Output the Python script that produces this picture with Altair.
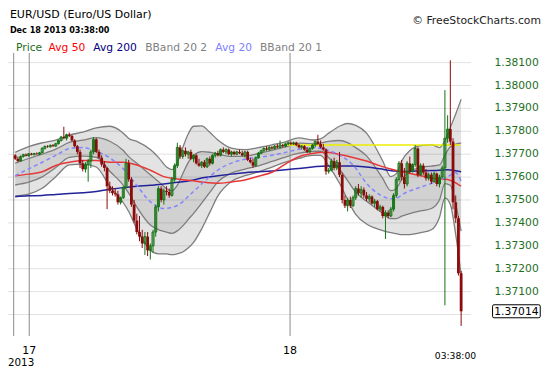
import altair as alt
import pandas as pd

# ---------------- data (prices in pips above BASE, 1 pip = 0.0001) ----------------
BASE = 1.3700
PIP = 0.0001

open_pips = [
    69.5, 68, 67, 69, 69.8, 69.3, 70.2, 69.8, 70.3, 70,
    70.6, 72.6, 73.4, 73.2, 73.9, 73.5, 74.6, 76, 77.5, 77,
    78.5, 78, 76, 73.5, 71, 66, 63.5, 65.5, 67, 71,
    76.5, 71, 68.5, 65.5, 64, 56, 54, 53, 52.5, 49,
    51, 55.5, 66, 59, 48, 41, 36, 34, 31, 34,
    28, 30, 36, 47, 55, 50, 54, 53.5, 52, 59,
    65, 73, 69, 71.5, 70, 71, 68, 69.5, 66, 65,
    66.5, 64.5, 68, 66, 69.5, 70.5, 69.5, 72, 71, 72,
    70, 71, 70, 71, 70.5, 69.5, 71, 67.5, 66.5, 65,
    68.5, 70.5, 71.5, 72.5, 72, 73, 72.5, 73.5, 73, 74,
    73.5, 74.5, 75, 74.5, 75, 74, 73, 73.5, 72, 71,
    72.5, 74, 75.5, 74.5, 73, 72, 62.5, 63, 67, 64,
    66.5, 61, 50, 47.5, 50, 47.5, 51, 55, 53, 54.5,
    52, 50.5, 51.5, 48.5, 49.5, 46, 47, 43, 44.5, 43,
    46, 52, 59, 66, 60, 57, 66, 62.5, 65.5, 72.5,
    61, 65, 62, 59.5, 61, 58, 61.5, 57, 60, 64,
    77, 81, 75.5, 49, 42, 18,
]
high_pips = [
    70, 69, 69.5, 70.2, 70.3, 70.5, 70.6, 70.6, 70.8, 71,
    73, 73.8, 74, 74.2, 74.4, 75, 76.5, 78, 82, 79,
    79.5, 78.4, 76.5, 74, 72, 67.5, 66.5, 68, 72, 77.5,
    77, 72, 69.5, 67, 64.5, 58, 56, 55, 54, 51.5,
    56, 68, 67.5, 60, 50, 44, 43, 37, 36, 36,
    31, 37, 48, 56, 56, 55, 56, 55, 60, 66,
    75, 74, 72, 73, 71.5, 72, 70, 70, 68, 67,
    67.5, 68.5, 69, 70, 71, 71.5, 72.5, 73, 72.5, 72.5,
    71.5, 71.5, 71.5, 72, 71.5, 71.5, 71.5, 68.5, 68, 69,
    71, 72, 73, 73.5, 73.5, 73.5, 74, 74.5, 76, 74.5,
    75, 75.5, 75.5, 75.5, 75.5, 74.5, 74, 74, 73, 73,
    74.5, 76, 78.5, 76, 74.5, 72.5, 64, 68, 68.5, 67.5,
    71, 62, 52, 51, 51.5, 52, 56, 57, 56, 55.5,
    53.5, 52.5, 52, 50.5, 50, 48, 47.5, 45.5, 45.5, 47,
    53, 60, 67, 67.5, 64, 67, 69, 66, 74, 73,
    66, 66, 63.5, 62, 62, 62.5, 62, 61, 65, 98,
    87, 111, 77, 52, 43, 19,
]
low_pips = [
    67.5, 66.5, 66.8, 68.5, 69, 69, 69.5, 69.5, 69.8, 69.6,
    70.4, 72, 72.8, 72.9, 73.2, 73.3, 74.2, 75.5, 76.5, 76,
    77.5, 75.5, 73, 70, 64, 62.5, 62, 58, 64, 70,
    70.5, 68, 64.5, 62.5, 46, 53, 52, 51.5, 48, 48,
    50.5, 55, 58, 47, 40, 35, 32, 29, 26, 25.5,
    24, 27, 34, 45, 49, 48, 52, 51, 51.5, 58,
    64, 68, 68, 69, 68, 67.5, 66.5, 65.5, 64.5, 64,
    64, 64, 65, 65.5, 68.5, 69, 69, 70.5, 70, 69.5,
    69, 69.5, 69.5, 70, 69, 68.5, 67, 66, 64, 64.5,
    68, 70, 71, 71.5, 71.5, 72, 72, 72.5, 72.5, 73,
    73, 74, 74, 74, 73.5, 72.5, 72, 71.5, 70.5, 70.5,
    72, 73, 74, 72.5, 71.5, 61, 61.5, 62.5, 63, 63,
    60, 48.5, 46.5, 45, 46.5, 47, 50, 52, 51, 51,
    49.5, 49, 48, 47, 45.5, 45, 42, 33, 42, 42.5,
    45, 51, 58, 58.5, 55, 56, 61.5, 62, 64.5, 60,
    60.5, 61, 58.5, 58.5, 57, 57.5, 56, 55.5, 59.5, 4,
    75, 74, 46, 40, 17, -5,
]
close_pips = [
    68, 67, 69, 69.8, 69.3, 70.2, 69.8, 70.3, 70, 70.6,
    72.6, 73.4, 73.2, 73.9, 73.5, 74.6, 76, 77.5, 77, 78.5,
    78, 76, 73.5, 71, 66, 63.5, 65.5, 67, 71, 76.5,
    71, 68.5, 65.5, 64, 56, 54, 53, 52.5, 49, 51,
    55.5, 66, 59, 48, 41, 36, 34, 31, 34, 28,
    30, 36, 47, 55, 50, 54, 53.5, 52, 59, 65,
    73, 69, 71.5, 70, 71, 68, 69.5, 66, 65, 66.5,
    64.5, 68, 66, 69.5, 70.5, 69.5, 72, 71, 72, 70,
    71, 70, 71, 70.5, 69.5, 71, 67.5, 66.5, 65, 68.5,
    70.5, 71.5, 72.5, 72, 73, 72.5, 73.5, 73, 74, 73.5,
    74.5, 75, 74.5, 75, 74, 73, 73.5, 72, 71, 72.5,
    74, 75.5, 74.5, 73, 72, 62.5, 63, 67, 64, 66.5,
    61, 50, 47.5, 50, 47.5, 51, 55, 53, 54.5, 52,
    50.5, 51.5, 48.5, 49.5, 46, 47, 43, 44.5, 43, 46,
    52, 59, 66, 60, 57, 66, 62.5, 65.5, 72.5, 61,
    65, 62, 59.5, 61, 58, 61.5, 57, 60, 64, 77,
    81, 75.5, 49, 42, 18, 1.4,
]

# Bollinger 20/2 outer band edges, read at these candle indices
band_idx = [0, 5, 10, 15, 20, 25, 30, 35, 40, 42, 45, 50, 53, 56, 58, 60, 62, 64, 66, 69,
            72, 75, 80, 85, 90, 95, 100, 105, 110, 113, 116, 120, 123, 126, 130, 133, 136,
            139, 141, 143, 146, 150, 154, 157, 159, 161, 163, 165]
band_upper_pips = [70.8, 73.3, 75, 76.2, 78.4, 79.6, 81.5, 82.2, 79.2, 76.9,
                   75.6, 72, 68.6, 64.4, 63.3, 66.5, 72.9, 78.8, 82.2, 82.4,
                   79.6, 76.2, 72.7, 72, 72.9, 74.1, 75.4, 77.1, 76.2, 76.7,
                   79.2, 82.2, 83.4, 82.6, 79.2, 73.7, 67, 60.2, 61.5, 67,
                   71.6, 73.7, 74.1, 72.9, 75.8, 81.7, 87.6, 94]
band_lower_pips = [51.8, 52.6, 55.1, 60.2, 65.3, 65.7, 64.4, 56, 48.8, 45,
                   37.4, 28.1, 26.5, 26.5, 26.1, 26.5, 27.3, 29, 31.5, 37.4,
                   44.6, 51.8, 58.1, 60.6, 62.3, 64.4, 66.5, 68.2, 69.5, 69.5,
                   64.9, 57.3, 50.1, 43.7, 39.5, 37.8, 36.6, 35.7, 35.3, 34.9,
                   34.9, 35.7, 37, 42.5, 50.9, 48, 34.9, 17.2]

ma_idx = list(range(0, 166, 5))
ma50_pips = [60.6, 61.3, 62.3, 65.1, 66.5, 67.2, 67.2, 66.5, 66.5, 65.3,
             63, 60.2, 59.2, 58.5, 57.7, 57.3, 57.9, 58.7, 60.4, 62.1,
             65.7, 68.9, 70.3, 70.8, 69.9, 68.6, 67, 64.9, 63.2, 61.9,
             60.6, 59.4, 59, 56]
ma200_pips = [51.4, 51.8, 52, 52.4, 52.8, 53.2, 53.7, 54.7, 55.4, 56,
              56.4, 57, 57.7, 58.5, 59.8, 60.6, 61.3, 61.9, 62.3, 62.7,
              63.2, 63.8, 64.4, 64.9, 64.9, 64.9, 64.4, 63.6, 62.7, 62.5,
              62.7, 62.9, 63.2, 62.3]
ma20_idx = list(range(0, 161, 5)) + [163, 165]
ma20_pips = [60.6, 63.6, 66.5, 69.5, 72.4, 72.9, 71.2, 68.4, 63.6, 56.4,
             49.2, 46.3, 47.6, 52.6, 58.1, 63.1, 66.1, 67.8, 68.6, 69.5,
             70.8, 72.2, 72.9, 72, 69.5, 65.3, 57.3, 52.2, 50.5, 53.5,
             55.6, 57.7, 60.2, 61.9, 58.1]

grid_values = [1.370, 1.371, 1.372, 1.373, 1.374, 1.375, 1.376, 1.377, 1.378, 1.379, 1.380, 1.381]
label_values = grid_values[1:]
day_idx = [5.2, 101.7]
day_labels = ["17", "18"]
session_sep_idx = [-0.55, 5.2, 101.7]
level_line = {"start": [100.4], "end": [164.6], "level": [1.3774]}
time_label = "03:38:00"
time_label_idx = [162.9]

# ---------------- styling / layout ----------------
FONT = "DejaVu Sans"
GREEN = "#147414"
RED = "#8b0b0b"
AXIS_GREEN = "#1e6e1e"
W, H = 463, 283
X_DOMAIN = [-0.81, 166.8]
Y_DOMAIN = [1.36906, 1.38142]


def px(p):
    return round(BASE + p * PIP, 6)


n = len(close_pips)
candles = pd.DataFrame({
    "idx": list(range(n)),
    "open": [px(v) for v in open_pips],
    "high": [px(v) for v in high_pips],
    "low": [px(v) for v in low_pips],
    "close": [px(v) for v in close_pips],
})
candles["dir"] = ["up" if c >= o else "down" for o, c in zip(candles["open"], candles["close"])]

bands = pd.DataFrame({"idx": band_idx,
                      "u2": [px(v) for v in band_upper_pips],
                      "l2": [px(v) for v in band_lower_pips]})
bands["u1"] = (3 * bands["u2"] + bands["l2"]) / 4
bands["l1"] = (bands["u2"] + 3 * bands["l2"]) / 4

ma = pd.DataFrame({"idx": ma_idx, "ma50": [px(v) for v in ma50_pips],
                   "ma200": [px(v) for v in ma200_pips]})
ma20 = pd.DataFrame({"idx": ma20_idx, "ma20": [px(v) for v in ma20_pips]})

xs = alt.Scale(domain=X_DOMAIN, nice=False, zero=False)
ys = alt.Scale(domain=Y_DOMAIN, nice=False, zero=False)


def X(f):
    return alt.X(f, type="quantitative", scale=xs, axis=None)


def Y(f):
    return alt.Y(f, type="quantitative", scale=ys, axis=None)


grid = alt.Chart(pd.DataFrame({"v": grid_values})).mark_rule(color="#e2e2e2", strokeWidth=1).encode(
    y=Y("v"))

ylabels = alt.Chart(pd.DataFrame({"v": label_values})).mark_text(
    font=FONT, fontSize=10.7, color=AXIS_GREEN, align="left", baseline="middle").encode(
    x=alt.value(486.5), y=Y("v"), text=alt.Text("v:Q", format=".5f"))

outer = alt.Chart(bands).mark_area(color="#000000", opacity=0.11, interpolate="monotone").encode(
    x=X("idx"), y=Y("u2"), y2=alt.Y2("l2"))
inner = alt.Chart(bands).mark_area(color="#000000", opacity=0.08, interpolate="monotone").encode(
    x=X("idx"), y=Y("u1"), y2=alt.Y2("l1"))

seps = alt.Chart(pd.DataFrame({"idx": session_sep_idx})).mark_rule(color="#8c8c8c", strokeWidth=1).encode(
    x=X("idx"))

band_lines = alt.Chart(bands).transform_fold(["u2", "u1", "l1", "l2"], as_=["band", "val"]).mark_line(
    color="#7d7d7d", strokeWidth=1.3, interpolate="monotone").encode(
    x=X("idx"), y=Y("val"), detail="band:N")

yellow = alt.Chart(pd.DataFrame(level_line)).mark_rule(color="#ecec00", strokeWidth=1.5).encode(
    x=X("start"), x2=alt.X2("end"), y=Y("level"))

ma200_line = alt.Chart(ma).mark_line(color="#22229a", strokeWidth=1.5, interpolate="monotone").encode(
    x=X("idx"), y=Y("ma200"))
ma50_line = alt.Chart(ma).mark_line(color="#e63838", strokeWidth=1.5, interpolate="monotone").encode(
    x=X("idx"), y=Y("ma50"))
ma20_line = alt.Chart(ma20).mark_line(color="#8585ff", strokeWidth=1.5, strokeDash=[4, 3],
                                       interpolate="monotone").encode(x=X("idx"), y=Y("ma20"))

color_scale = alt.Scale(domain=["up", "down"], range=[GREEN, RED])
wicks = alt.Chart(candles).mark_rule(strokeWidth=1).encode(
    x=X("idx"), y=Y("low"), y2=alt.Y2("high"),
    color=alt.Color("dir:N", scale=color_scale, legend=None))
red_bodies = alt.Chart(candles).transform_filter(alt.datum.dir == "down").mark_bar(
    size=2.8, color=RED).encode(x=X("idx"), y=Y("open"), y2=alt.Y2("close"))
green_bodies = alt.Chart(candles).transform_filter(alt.datum.dir == "up").mark_bar(
    size=2.0, fillOpacity=0, stroke=GREEN, strokeWidth=1).encode(
    x=X("idx"), y=Y("open"), y2=alt.Y2("close"))

dummy = pd.DataFrame({"d": [0]})


def label(text, x, y, size, color="#000000", align="left", weight="normal"):
    return alt.Chart(dummy).mark_text(
        text=text, font=FONT, fontSize=size, color=color, align=align,
        baseline="alphabetic", fontWeight=weight).encode(x=alt.value(x), y=alt.value(y))


texts = [
    label("EUR/USD (Euro/US Dollar)", 1.9, -35.3, 11),
    label("Dec 18 2013 03:38:00", 1.9, -20.4, 8.1, weight="bold"),
    label("\u00a9 FreeStockCharts.com", 533, -29.1, 10.8, color="#222222", align="right"),
    label("Price", 8.1, -2.5, 10.7, color=AXIS_GREEN),
    label("Avg 50", 40.6, -2.5, 10.7, color="#ff0000"),
    label("Avg 200", 85.3, -2.5, 10.7, color="#000080"),
    label("BBand 20 2", 137.2, -2.5, 10.7, color="#808080"),
    label("Avg 20", 207.2, -2.5, 10.7, color="#8080ff"),
    label("BBand 20 1", 252, -2.5, 10.7, color="#808080"),
    label("2013", 0, 312.5, 10.3),
]

days = alt.Chart(pd.DataFrame({"idx": day_idx, "label": day_labels})).mark_text(
    font=FONT, fontSize=11, baseline="alphabetic", align="center", color="#000000").encode(
    x=X("idx"), y=alt.value(300.5), text="label:N")
time_txt = alt.Chart(pd.DataFrame({"idx": time_label_idx, "label": [time_label]})).mark_text(
    font=FONT, fontSize=9.2, baseline="alphabetic", align="center", color="#000000").encode(
    x=X("idx"), y=alt.value(306.3), text="label:N")

last = candles.tail(1)
box_path = ("M-0.94,-0.2725 L0.94,-0.2725 Q1,-0.2725 1,-0.21 L1,0.21 Q1,0.2725 0.94,0.2725 "
            "L-0.94,0.2725 Q-1,0.2725 -1,0.21 L-1,-0.21 Q-1,-0.2725 -0.94,-0.2725 Z")
price_box = alt.Chart(last).mark_point(shape=box_path, size=2275, filled=True, fill="#ffffff",
                                       stroke="#000000", strokeWidth=1, opacity=1).encode(
    x=alt.value(508.4), y=Y("close"))
price_txt = alt.Chart(last).mark_text(font=FONT, fontSize=10.7, color="#000000", align="center",
                                      baseline="middle", dy=0.5).encode(
    x=alt.value(508.4), y=Y("close"), text=alt.Text("close:Q", format=".5f"))

chart = alt.layer(
    grid, outer, inner, seps, band_lines, yellow, ma200_line, ma50_line, ma20_line,
    wicks, red_bodies, green_bodies, ylabels, days, time_txt, price_box, price_txt, *texts
).properties(
    width=W, height=H,
    padding={"left": 0, "top": 45, "right": 71, "bottom": 31},
    autosize=alt.AutoSizeParams(type="none"),
    background="#ffffff",
).configure_view(stroke=None)

chart.save("out.html", embed_options={"renderer": "svg", "actions": False})
